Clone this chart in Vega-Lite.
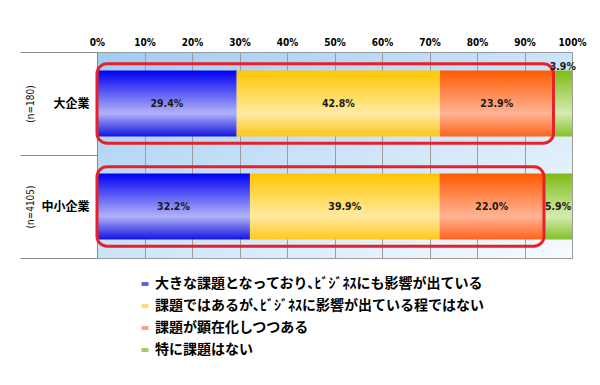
{
  "$schema": "https://vega.github.io/schema/vega-lite/v6.json",
  "width": 475,
  "height": 206,
  "autosize": "none",
  "padding": {"left": 97, "top": 52, "right": 28, "bottom": 127},
  "config": {
    "view": {
      "stroke": "#9a9a9a",
      "strokeWidth": 1,
      "fill": {"gradient": "linear", "x1": 0, "y1": 0, "x2": 1, "y2": 1,
        "stops": [{"offset": 0, "color": "#a0ccf3"}, {"offset": 1, "color": "#f7fbff"}]}
    }
  },
  "data": {
    "values": [
      {"company": "大企業", "n": "(n=180)", "cat": "大きな課題となっており､ﾋﾞｼﾞﾈｽにも影響が出ている", "o": 1, "value": 29.4},
      {"company": "大企業", "n": "(n=180)", "cat": "課題ではあるが､ﾋﾞｼﾞﾈｽに影響が出ている程ではない", "o": 2, "value": 42.8},
      {"company": "大企業", "n": "(n=180)", "cat": "課題が顕在化しつつある", "o": 3, "value": 23.9},
      {"company": "大企業", "n": "(n=180)", "cat": "特に課題はない", "o": 4, "value": 3.9},
      {"company": "中小企業", "n": "(n=4105)", "cat": "大きな課題となっており､ﾋﾞｼﾞﾈｽにも影響が出ている", "o": 1, "value": 32.2},
      {"company": "中小企業", "n": "(n=4105)", "cat": "課題ではあるが､ﾋﾞｼﾞﾈｽに影響が出ている程ではない", "o": 2, "value": 39.9},
      {"company": "中小企業", "n": "(n=4105)", "cat": "課題が顕在化しつつある", "o": 3, "value": 22.0},
      {"company": "中小企業", "n": "(n=4105)", "cat": "特に課題はない", "o": 4, "value": 5.9}
    ]
  },
  "layer": [
    {
      "encoding": {
        "y": {
          "field": "company", "type": "nominal", "sort": ["大企業", "中小企業"],
          "scale": {"paddingInner": 0, "paddingOuter": 0},
          "axis": {
            "orient": "left", "title": null, "domain": true, "domainColor": "#8a8a8a",
            "ticks": true, "tickBand": "extent", "tickSize": 77, "tickColor": "#8a8a8a",
            "labelPadding": -69, "labelFont": "Noto Sans CJK JP", "labelFontWeight": "bold",
            "labelFontSize": 12, "labelColor": "#000000"
          }
        }
      },
      "layer": [
        {
          "mark": {"type": "bar", "height": {"band": 0.64}},
          "encoding": {
            "x": {
              "field": "value", "type": "quantitative", "stack": "zero",
              "scale": {"domain": [0, 100], "nice": false},
              "axis": {
                "orient": "top", "title": null, "grid": true, "gridColor": "#9c9c9c",
                "ticks": false, "domain": false, "labelPadding": 5, "labelFlush": false,
                "values": [0, 10, 20, 30, 40, 50, 60, 70, 80, 90, 100],
                "labelExpr": "datum.value + '%'",
                "labelFont": "DejaVu Sans Condensed", "labelFontWeight": "bold",
                "labelFontSize": 10, "labelColor": "#000000"
              }
            },
            "order": {"field": "o", "type": "quantitative"},
            "fill": {
              "condition": [
                {"test": "datum.o === 1", "value": {"gradient": "linear", "x1": 0, "y1": 0, "x2": 0, "y2": 1,
                  "stops": [{"offset": 0, "color": "#0000f2"}, {"offset": 0.65, "color": "#b2b2f8"}, {"offset": 1, "color": "#1414e0"}]}},
                {"test": "datum.o === 2", "value": {"gradient": "linear", "x1": 0, "y1": 0, "x2": 0, "y2": 1,
                  "stops": [{"offset": 0, "color": "#ffc600"}, {"offset": 0.65, "color": "#ffeaa2"}, {"offset": 1, "color": "#ffc81a"}]}},
                {"test": "datum.o === 3", "value": {"gradient": "linear", "x1": 0, "y1": 0, "x2": 0, "y2": 1,
                  "stops": [{"offset": 0, "color": "#ff5a00"}, {"offset": 0.65, "color": "#ffb496"}, {"offset": 1, "color": "#ff641c"}]}}
              ],
              "value": {"gradient": "linear", "x1": 0, "y1": 0, "x2": 0, "y2": 1,
                "stops": [{"offset": 0, "color": "#7cbc14"}, {"offset": 0.65, "color": "#d6ebb0"}, {"offset": 1, "color": "#84c028"}]}
            }
          }
        },
        {
          "transform": [
            {"filter": "datum.o < 4"},
            {"aggregate": [{"op": "sum", "field": "value", "as": "total"}], "groupby": ["company"]}
          ],
          "mark": {"type": "bar", "height": {"band": 0.77}, "fillOpacity": 0, "stroke": "#e8202a", "strokeWidth": 3, "cornerRadius": 10},
          "encoding": {
            "x": {"field": "total", "type": "quantitative"},
            "x2": {"datum": 0}
          }
        },
        {
          "mark": {
            "type": "text", "font": "DejaVu Sans Condensed", "fontWeight": "bold",
            "fontSize": 10.5, "color": "#1a1a1a",
            "text": {"expr": "format(datum.value, '.1f') + '%'"},
            "dy": {"expr": "datum.value < 5 ? -37 : 0"}
          },
          "encoding": {
            "x": {"field": "value", "type": "quantitative", "stack": "zero", "bandPosition": 0.5},
            "order": {"field": "o", "type": "quantitative"}
          }
        },
        {
          "mark": {"type": "point", "opacity": 0, "filled": true},
          "encoding": {
            "x": {"datum": 50},
            "color": {
              "field": "cat", "type": "nominal",
              "scale": {
                "domain": ["大きな課題となっており､ﾋﾞｼﾞﾈｽにも影響が出ている", "課題ではあるが､ﾋﾞｼﾞﾈｽに影響が出ている程ではない", "課題が顕在化しつつある", "特に課題はない"],
                "range": ["#5c5cec", "#ffdc70", "#f8a084", "#9ecb66"]
              },
              "legend": {
                "orient": "none", "legendX": 41, "legendY": 225, "title": null,
                "padding": 0, "symbolType": "M-1,-0.55H1V0.55H-1Z", "symbolSize": 49,
                "symbolOpacity": 1, "symbolStrokeWidth": 0,
                "labelFont": "Noto Sans CJK JP", "labelFontWeight": "bold", "labelFontSize": 14,
                "labelColor": "#000000", "labelOffset": 3, "rowPadding": 8, "labelLimit": 500
              }
            }
          }
        }
      ]
    },
    {
      "mark": {"type": "point", "opacity": 0},
      "encoding": {
        "x": {"datum": 0},
        "y": {
          "field": "n", "type": "nominal", "sort": ["(n=180)", "(n=4105)"],
          "scale": {"paddingInner": 0, "paddingOuter": 0},
          "axis": {
            "orient": "left", "title": null, "domain": false, "ticks": false, "tickSize": 0, "grid": false,
            "labelAngle": -90, "labelAlign": "center", "labelBaseline": "middle", "labelPadding": 67,
            "labelFont": "DejaVu Sans Condensed", "labelFontSize": 10, "labelColor": "#111111"
          }
        }
      }
    }
  ],
  "resolve": {"scale": {"y": "independent"}, "axis": {"y": "independent"}}
}
